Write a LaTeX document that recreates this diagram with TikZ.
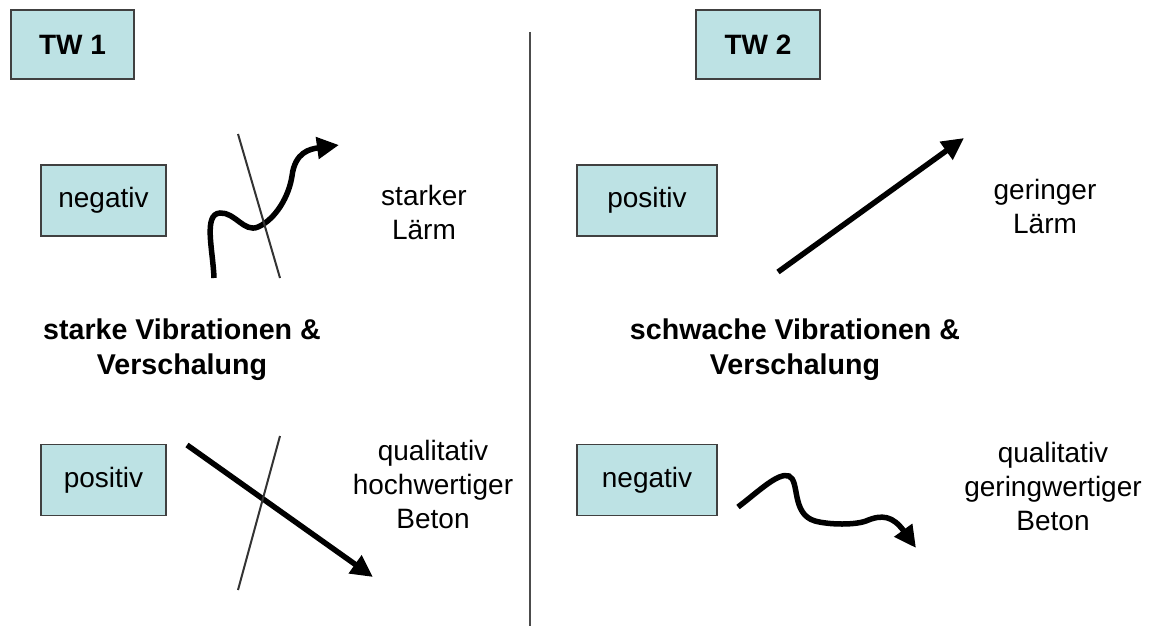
\documentclass[tikz,border=0pt]{standalone}
\usepackage{fontspec}
\setmainfont{Liberation Sans}
\usetikzlibrary{arrows.meta}
\definecolor{boxfill}{HTML}{BDE2E4}
\definecolor{boxline}{HTML}{404040}
\tikzset{
  lab/.style={draw=boxline, line width=1.3pt, fill=boxfill, inner sep=0pt, font=\fontsize{28}{33}\selectfont},
  txt/.style={align=center, inner sep=0pt, font=\fontsize{28}{34}\selectfont},
  btxt/.style={align=center, inner sep=0pt, font=\fontsize{28.6}{35}\selectfont\bfseries},
  thick arrow/.style={line width=5.5pt, -{Triangle[length=22pt,width=21pt]}},
  cross/.style={line width=2pt, draw=black!80},
}
\begin{document}
\begin{tikzpicture}[x=1pt,y=-1pt]
\useasboundingbox (0,0) rectangle (1153,626);
% divider
\coordinate (dtop) at (530,32);
\coordinate (dbot) at (530,626);
\draw[line width=1.3pt, black!70] (dtop) -- (dbot);
% boxes
\node[lab, minimum width=123pt, minimum height=69pt, font=\fontsize{28}{33}\selectfont\bfseries] (tw1) at (72.5,44.5) {TW 1};
\node[lab, minimum width=124pt, minimum height=69pt, font=\fontsize{28}{33}\selectfont\bfseries] (tw2) at (758,44.5) {TW 2};
\node[lab, minimum width=125pt, minimum height=71pt] (neg1) at (103.5,200.5) {negativ};
\node[lab, minimum width=125pt, minimum height=71pt] (pos1) at (103.5,480) {positiv};
\node[lab, minimum width=140pt, minimum height=71pt] (pos2) at (647,200.5) {positiv};
\node[lab, minimum width=140pt, minimum height=71pt] (neg2) at (647,480) {negativ};
% texts
\node[txt] (laerm1) at (424,212) {starker\\Lärm};
\node[txt] (laerm2) at (1045,206) {geringer\\Lärm};
\node[btxt] (vib1) at (182,350) {starke Vibrationen \&\\Verschalung};
\node[btxt] (vib2) at (795,350) {schwache Vibrationen \&\\Verschalung};
\node[txt] (beton1) at (433,484) {qualitativ\\hochwertiger\\Beton};
\node[txt] (beton2) at (1053,486) {qualitativ\\geringwertiger\\Beton};
% top-left squiggle
\coordinate (s1a) at (214,278);
\coordinate (s1b) at (339,145);
\draw[thick arrow] (s1a) .. controls (213,250) and (203,214) .. (220,213)
  .. controls (235,212) and (244,233) .. (258,227)
  .. controls (276,219) and (289,196) .. (292,176)
  .. controls (295,152) and (310,149) .. (s1b);
\coordinate (c1a) at (238,134);
\coordinate (c1b) at (280,278);
\draw[cross] (c1a) -- (c1b);
% bottom-left straight arrow
\coordinate (a2a) at (187,445);
\coordinate (a2b) at (373,577);
\draw[thick arrow] (a2a) -- (a2b);
\coordinate (c2a) at (280,436);
\coordinate (c2b) at (238,590);
\draw[cross] (c2a) -- (c2b);
% top-right straight arrow
\coordinate (a3a) at (778,272);
\coordinate (a3b) at (964,138);
\draw[thick arrow] (a3a) -- (a3b);
% bottom-right squiggle
\coordinate (s4a) at (738,507);
\coordinate (s4b) at (916,548);
\draw[thick arrow] (s4a) .. controls (758,492) and (778,472) .. (789,476)
  .. controls (800,481) and (791,514) .. (815,521)
  .. controls (830,525) and (855,525) .. (866,521)
  .. controls (882,514) and (893,516) .. (s4b);
\end{tikzpicture}
\end{document}
